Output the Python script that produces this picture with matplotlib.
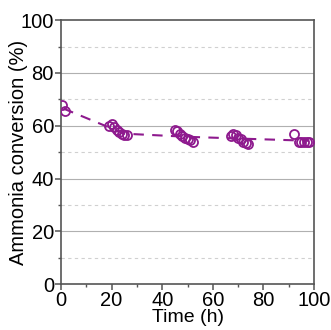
import matplotlib as mpl
mpl.use('Agg')
from matplotlib import pyplot as plt
from matplotlib.ticker import MultipleLocator

plt.rcParams['font.family'] = ['Liberation Sans', 'DejaVu Sans']

# measured points
time_h = [0.5, 1.5, 19, 20, 21, 22, 23, 24, 25, 26,
          45, 46, 47, 48, 49, 50, 51, 52,
          67, 68, 69, 70, 71, 72, 73, 74,
          92, 94, 95, 96, 97, 98]
conversion = [68, 65.5, 60, 60.5, 59.5, 58.5, 57.5, 57, 56.5, 56.5,
              58.5, 58, 57, 56, 55.5, 55, 54.5, 54,
              56, 57, 56.5, 55.5, 55, 54, 53.5, 53,
              57, 54, 54, 54, 54, 54]

# trend line
trend_t = [1, 25, 50, 75, 98]
trend_y = [66.5, 57, 55.8, 55, 54.3]

purple = '#8e1a8e'

fig = plt.figure(figsize=(3.31, 3.30), dpi=100)
ax = fig.add_axes([0.184, 0.139, 0.765, 0.80])

ax.plot(trend_t, trend_y, '--', color=purple, lw=1.5, dashes=(5, 4), zorder=2)
ax.plot(time_h, conversion, 'o', mfc='none', mec=purple, mew=1.3, ms=6.5, zorder=3)

ax.set_xlim(0, 100)
ax.set_ylim(0, 100)
ax.xaxis.set_major_locator(MultipleLocator(20))
ax.xaxis.set_minor_locator(MultipleLocator(10))
ax.yaxis.set_major_locator(MultipleLocator(20))
ax.yaxis.set_minor_locator(MultipleLocator(10))

for y in [20, 40, 60, 80]:
    ax.axhline(y, color='#b0b0b0', lw=0.8, zorder=1)
for y in [10, 30, 50, 70, 90]:
    ax.axhline(y, color='#d0d0d0', lw=0.8, ls=(0, (3, 3)), zorder=1)

for s in ax.spines.values():
    s.set_color('#555555')
    s.set_linewidth(1.2)
ax.tick_params(which='major', direction='out', length=4, width=1.1, color='#555555',
               labelsize=14.5, pad=1)
ax.tick_params(which='minor', direction='out', length=2.5, width=1.0, color='#555555')

ax.set_xlabel('Time (h)', fontsize=14, labelpad=-1)
ax.set_ylabel('Ammonia conversion (%)', fontsize=14.5)
ax.yaxis.set_label_coords(-0.13, 0.5)

plt.savefig('out.png', dpi=100)
